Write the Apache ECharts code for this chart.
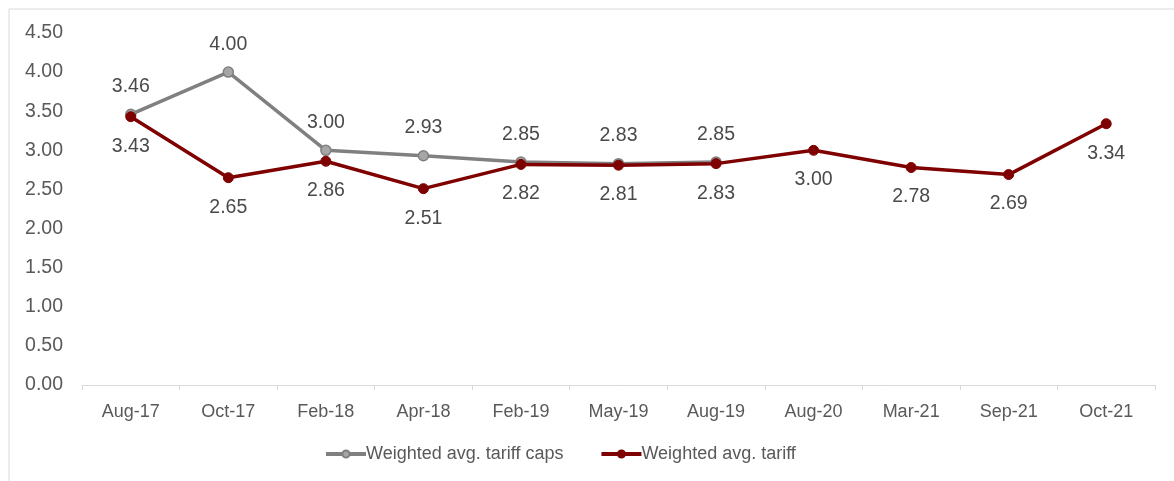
<!DOCTYPE html>
<html><head><meta charset="utf-8">
<script src="https://cdn.jsdelivr.net/npm/echarts@6/dist/echarts.min.js"></script>
<style>html,body{margin:0;padding:0;background:#fff}#c{width:1174px;height:481px}</style>
</head><body><div id="c"></div>
<script>
const categories = ['Aug-17','Oct-17','Feb-18','Apr-18','Feb-19','May-19','Aug-19','Aug-20','Mar-21','Sep-21','Oct-21'];
const tariffCaps = [3.46, 4.00, 3.00, 2.93, 2.85, 2.83, 2.85, null, null, null, null];
const tariff = [3.43, 2.65, 2.86, 2.51, 2.82, 2.81, 2.83, 3.00, 2.78, 2.69, 3.34];
const yTicks = {min: 0, max: 4.5, interval: 0.5};

const chart = echarts.init(document.getElementById('c'));
const font = 'Liberation Sans, Arial, sans-serif';
chart.setOption({
  animation: false,
  textStyle: {fontFamily: font},
  graphic: [{type: 'rect', shape: {x: 9, y: 9, width: 1200, height: 500}, style: {fill: 'none', stroke: '#d9d9d9', lineWidth: 1}, silent: true}],
  grid: {left: 82, right: 19, top: 33, bottom: 96},
  legend: {
    bottom: 13, left: 319, itemWidth: 40, itemHeight: 9, itemGap: 36,
    textStyle: {fontSize: 18, color: '#595959', fontFamily: font, padding: [0,0,0,-5]},
    lineStyle: {width: 4},
    data: ['Weighted avg. tariff caps', 'Weighted avg. tariff']
  },
  xAxis: {
    type: 'category', data: categories, boundaryGap: true,
    axisLine: {lineStyle: {color: '#d9d9d9', width: 1}},
    axisTick: {show: true, length: 5, lineStyle: {color: '#d9d9d9'}},
    axisLabel: {fontSize: 18, color: '#595959', margin: 18, fontFamily: font}
  },
  yAxis: {
    type: 'value', min: yTicks.min, max: yTicks.max, interval: yTicks.interval,
    splitLine: {show: false}, axisLine: {show: false}, axisTick: {show: false},
    axisLabel: {fontSize: 19.5, color: '#595959', margin: 19, fontFamily: font, formatter: v => v.toFixed(2)}
  },
  series: [
    {
      name: 'Weighted avg. tariff caps', type: 'line', data: tariffCaps, z: 2,
      symbol: 'circle', symbolSize: 10,
      lineStyle: {color: '#808080', width: 3.5},
      itemStyle: {color: '#a6a6a6', borderColor: '#808080', borderWidth: 1.5},
      label: {show: true, position: 'top', distance: 12, fontSize: 19.5, color: '#4a4a4a', fontFamily: font, formatter: p => p.value.toFixed(2)}
    },
    {
      name: 'Weighted avg. tariff', type: 'line', data: tariff, z: 3,
      symbol: 'circle', symbolSize: 10,
      lineStyle: {color: '#7f0000', width: 3.5},
      itemStyle: {color: '#7f0000', borderColor: '#7f0000', borderWidth: 1},
      label: {show: true, position: 'bottom', distance: 14, fontSize: 19.5, color: '#4a4a4a', fontFamily: font, formatter: p => p.value.toFixed(2)}
    }
  ]
});
</script></body></html>
